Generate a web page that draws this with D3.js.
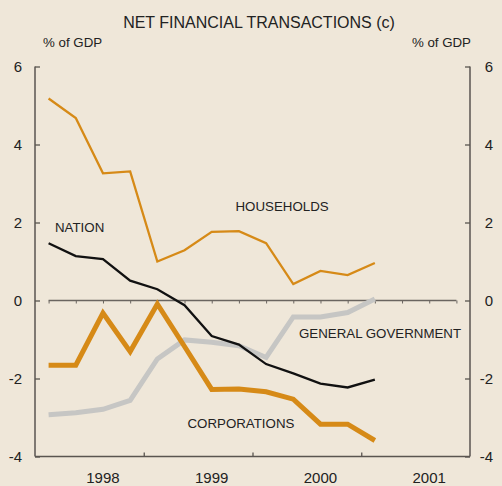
<!DOCTYPE html>
<html>
<head>
<meta charset="utf-8">
<script src="https://cdn.jsdelivr.net/npm/d3@7"></script>
<style>
html,body{margin:0;padding:0;background:#efe7d9;}
svg{display:block;font-family:"Liberation Sans",Arial,sans-serif;}
</style>
</head>
<body>
<svg id="chart" width="502" height="486"></svg>
<script>
// Quarterly data, 1998 Q1 to 2001 Q1 (% of GDP)
const quarters = ["1998Q1","1998Q2","1998Q3","1998Q4","1999Q1","1999Q2","1999Q3","1999Q4","2000Q1","2000Q2","2000Q3","2000Q4","2001Q1"];
const households   = [5.18, 4.68, 3.26, 3.31, 1.00, 1.29, 1.76, 1.78, 1.47, 0.42, 0.76, 0.65, 0.96];
const nation       = [1.47, 1.14, 1.06, 0.51, 0.29, -0.12, -0.91, -1.13, -1.63, -1.87, -2.13, -2.23, -2.03];
const corporations = [-1.66, -1.66, -0.32, -1.31, -0.09, -1.18, -2.28, -2.27, -2.34, -2.53, -3.17, -3.17, -3.59];
const generalGov   = [-2.93, -2.88, -2.79, -2.56, -1.50, -1.01, -1.07, -1.16, -1.46, -0.42, -0.42, -0.31, 0.04];
const years = ["1998","1999","2000","2001"];
const yTicks = [6, 4, 2, 0, -2, -4];

const svg = d3.select("#chart");
const mLeft = 35, mRight = 470, mTop = 66.5, mBottom = 456.5;
const nQ = 16;
const x = d3.scaleLinear().domain([0, nQ]).range([mLeft, mRight]);
const y = d3.scaleLinear().domain([-4, 6]).range([mBottom, mTop]);
const axisCol = "#5a5550", textCol = "#222";
const orange = "#d68a17", grey = "#c6c6c4";

// Title
svg.append("text").attr("x", 259).attr("y", 28).attr("text-anchor", "middle")
  .attr("font-size", 16).attr("fill", textCol).text("NET FINANCIAL TRANSACTIONS (c)");
svg.append("text").attr("x", 43).attr("y", 47).attr("font-size", 13.3).attr("fill", textCol).text("% of GDP");
svg.append("text").attr("x", 471).attr("y", 47).attr("text-anchor", "end").attr("font-size", 13.3).attr("fill", textCol).text("% of GDP");

// Left and right axes
const gL = svg.append("g").attr("transform", `translate(${mLeft},0)`)
  .call(d3.axisRight(y).tickValues(yTicks).tickSize(5).tickFormat(""));
const gR = svg.append("g").attr("transform", `translate(${mRight},0)`)
  .call(d3.axisLeft(y).tickValues(yTicks).tickSize(5).tickFormat(""));
[gL, gR].forEach(g => {
  g.select(".domain").attr("stroke", axisCol).attr("stroke-width", 1.5).attr("d", `M0,${mTop}V${mBottom}`);
  g.selectAll(".tick line").attr("stroke", axisCol).attr("stroke-width", 1.3);
});
// Tick labels
svg.selectAll(".ylabL").data(yTicks).enter().append("text")
  .attr("x", 22).attr("y", d => y(d)).attr("dy", "0.36em").attr("text-anchor", "end")
  .attr("font-size", 15).attr("fill", textCol).text(d => d);
svg.selectAll(".ylabR").data(yTicks).enter().append("text")
  .attr("x", 493).attr("y", d => y(d)).attr("dy", "0.36em").attr("text-anchor", "end")
  .attr("font-size", 15).attr("fill", textCol).text(d => d);

// Bottom axis
const gB = svg.append("g").attr("transform", `translate(0,${mBottom})`)
  .call(d3.axisTop(x).tickValues([4, 8, 12]).tickSize(4).tickFormat(""));
gB.select(".domain").attr("stroke", axisCol).attr("stroke-width", 1.5).attr("d", `M${mLeft},0H${mRight}`);
gB.selectAll(".tick line").attr("stroke", axisCol).attr("stroke-width", 1.3);
svg.selectAll(".yr").data(years).enter().append("text")
  .attr("x", (d, i) => x(i * 4 + 2.5)).attr("y", 483).attr("text-anchor", "middle")
  .attr("font-size", 15).attr("fill", textCol).text(d => d);

// Zero line with quarter ticks
const gZ = svg.append("g").attr("transform", `translate(0,${y(0)})`)
  .call(d3.axisBottom(x).tickValues(d3.range(nQ).map(i => i + 0.5)).tickSize(3).tickFormat(""));
gZ.select(".domain").attr("stroke", "#6a6560").attr("stroke-width", 1.3).attr("d", `M${x(0.5)},0H${x(nQ - 0.5)}`);
gZ.selectAll(".tick line").attr("stroke", "#6a6560").attr("stroke-width", 1);

// Lines
const line = d3.line().x((d, i) => x(i + 0.5)).y(d => y(d));
function draw(data, color, width) {
  svg.append("path").datum(data).attr("fill", "none").attr("stroke", color)
    .attr("stroke-width", width).attr("stroke-linejoin", "miter").attr("d", line);
}
draw(generalGov, grey, 5);
draw(corporations, orange, 5);
draw(households, orange, 2.3);
draw(nation, "#111", 2.3);

// Series labels
const labels = [
  {t: "NATION", x: 55, y: 231.5},
  {t: "HOUSEHOLDS", x: 235.5, y: 210.5},
  {t: "GENERAL GOVERNMENT", x: 299, y: 337.5},
  {t: "CORPORATIONS", x: 187.5, y: 427.5}
];
svg.selectAll(".lab").data(labels).enter().append("text")
  .attr("x", d => d.x).attr("y", d => d.y).attr("font-size", 13.3).attr("fill", textCol).text(d => d.t);
</script>
</body>
</html>
